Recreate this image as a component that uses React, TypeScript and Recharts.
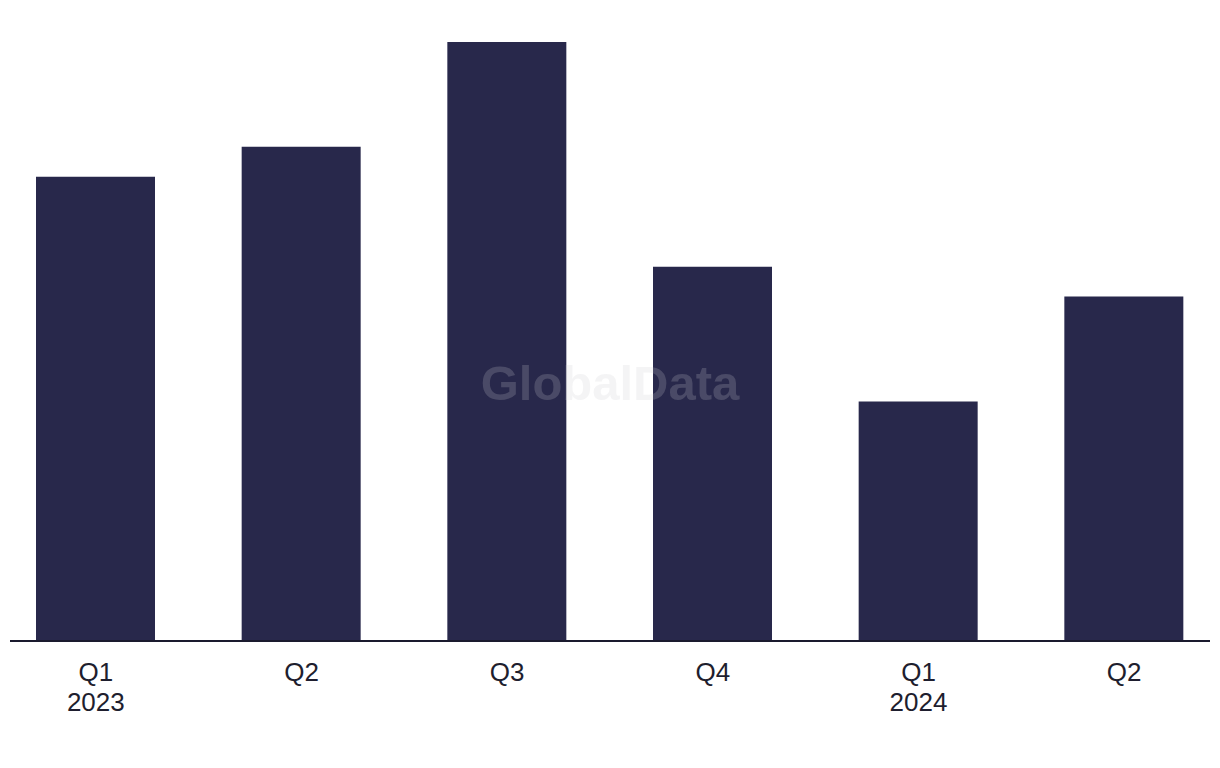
import { Bar, BarChart, XAxis, YAxis } from 'recharts';

const quarters = ['Q1', 'Q2', 'Q3', 'Q4', 'Q1', 'Q2']
const years = ['2023', '', '', '', '2024', '']
const values = [31, 33, 40, 25, 16, 23]

const data = quarters.map((q, i) => ({ key: `${q}-${i}`, quarter: q, year: years[i], value: values[i] }))

const FONT = '"Liberation Sans", Arial, sans-serif'

function QuarterTick(props: any) {
    const { x, y, payload } = props
    const row = data[payload.index] ?? data.find(d => d.key === payload.value)
    return (
        <text x={x} y={y} textAnchor="middle" fill="#1e1e2e" fontFamily={FONT} fontSize={26}>
            <tspan x={x} dy={32}>{row?.quarter}</tspan>
            {row?.year ? <tspan x={x} dy={30}>{row.year}</tspan> : null}
        </text>
    )
}

export default function App() {
    return (
        <div style={{ position: 'relative', margin: '-8px 0 0 -8px', width: 1220, height: 768, background: '#fff' }}>
            <BarChart width={1220} height={768} data={data} margin={{ top: 42, right: 10, bottom: 0, left: 10 }}>
                <XAxis dataKey="key" tickLine={false} padding={{ left: -17, right: -17 }}
                    axisLine={{ stroke: '#1a1a2e', strokeWidth: 2 }} tick={<QuarterTick />} interval={0} height={127} />
                <YAxis hide domain={[0, 40]} />
                <Bar dataKey="value" fill="#28284b" barSize={119} isAnimationActive={false} />
            </BarChart>
            <svg width={1220} height={768} style={{ position: 'absolute', left: 0, top: 0, pointerEvents: 'none' }}>
                <text x={610} y={400} textAnchor="middle" fontFamily={FONT} fontWeight="bold" fontSize={49}
                    fill="#cacad0" fillOpacity={0.21}>GlobalData</text>
            </svg>
        </div>
    )
}
